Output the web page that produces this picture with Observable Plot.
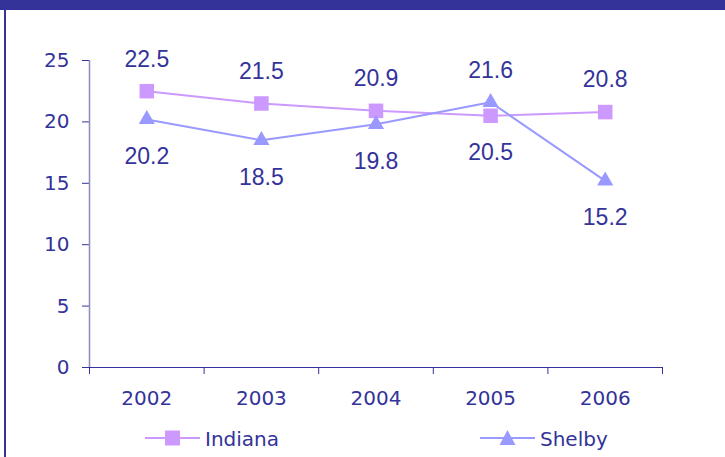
<!DOCTYPE html>
<html>
<head>
<meta charset="utf-8">
<script src="https://cdn.jsdelivr.net/npm/d3@7"></script>
<script src="https://cdn.jsdelivr.net/npm/@observablehq/plot@0.6"></script>
<style>
  html, body { margin: 0; padding: 0; background: #fff; }
  #wrap { position: relative; width: 725px; height: 457px; overflow: hidden; background: #fff; }
  #topband { position: absolute; left: 0; top: 0; width: 725px; height: 10px; background: #333399; }
  #leftborder { position: absolute; left: 4px; top: 0; width: 2px; height: 457px; background: #333399; }
  #chart { position: absolute; left: 0; top: 0; }
  #legend { position: absolute; left: 0; top: 420px; width: 725px; height: 37px; font-family: "DejaVu Sans", sans-serif; font-size: 20px; color: #333399; }
  .item { position: absolute; top: 0; height: 37px; display: flex; align-items: center; }
  .item svg { display: block; margin-right: 5px; }
</style>
</head>
<body>
<div id="wrap">
  <div id="chart"></div>
  <div id="topband"></div>
  <div id="leftborder"></div>
  <div id="legend"></div>
</div>
<script>
const years = [2002, 2003, 2004, 2005, 2006];
const indiana = [22.5, 21.5, 20.9, 20.5, 20.8];
const shelby = [20.2, 18.5, 19.8, 21.6, 15.2];
const seriesNames = ["Indiana", "Shelby"];
const yTicks = [0, 5, 10, 15, 20, 25];

const colors = { Indiana: "#cc99ff", Shelby: "#9999ff" };
const textColor = "#333399";

const rows = [];
years.forEach((yr, i) => {
  rows.push({ year: yr, series: "Indiana", value: indiana[i], above: indiana[i] >= shelby[i] });
  rows.push({ year: yr, series: "Shelby", value: shelby[i], above: shelby[i] > indiana[i] });
});
const boundaries = years.map(y => y - 0.5).concat([years[years.length - 1] + 0.5]);

const plot = Plot.plot({
  width: 725,
  height: 420,
  marginLeft: 89,
  marginRight: 63,
  marginTop: 60,
  marginBottom: 53,
  style: { fontFamily: "DejaVu Sans, sans-serif", fontSize: "20px", color: textColor, background: "transparent" },
  x: { domain: [boundaries[0], boundaries[boundaries.length - 1]], axis: null },
  y: { domain: [0, 25], axis: null },
  marks: [
    Plot.axisY({ ticks: yTicks, tickSize: 7, tickPadding: 13, tickFormat: d => String(d), label: null, stroke: textColor, fill: textColor }),
    Plot.axisX({ ticks: boundaries, tickSize: 7, tickFormat: () => "", label: null, stroke: textColor }),
    Plot.axisX({ ticks: years, tickSize: 0, tickPadding: 23, tickFormat: d => String(d), label: null, fill: textColor }),
    Plot.ruleX([boundaries[0]], { stroke: "#8c8cc0", strokeWidth: 1.5 }),
    Plot.ruleY([0], { stroke: textColor, strokeWidth: 1.2 }),
    Plot.line(rows, { x: "year", y: "value", z: "series", stroke: d => colors[d.series], strokeWidth: 2 }),
    Plot.dot(rows.filter(d => d.series === "Indiana"), { x: "year", y: "value", symbol: "square", r: 8.2, fill: colors.Indiana, stroke: null }),
    Plot.dot(rows.filter(d => d.series === "Shelby"), { x: "year", y: "value", symbol: "triangle", r: 6, fill: colors.Shelby, stroke: null }),
    Plot.text(rows.filter(d => d.above), { x: "year", y: "value", text: d => d.value.toFixed(1), dy: -32, fill: textColor, fontSize: 23, fontFamily: "Liberation Sans, Arial, sans-serif" }),
    Plot.text(rows.filter(d => !d.above), { x: "year", y: "value", text: d => d.value.toFixed(1), dy: 37, fill: textColor, fontSize: 23, fontFamily: "Liberation Sans, Arial, sans-serif" })
  ]
});
document.getElementById("chart").appendChild(plot);

// Legend
const legend = document.getElementById("legend");
const legendLeft = { Indiana: 145, Shelby: 480 };
seriesNames.forEach(name => {
  const item = document.createElement("div");
  item.className = "item";
  item.style.left = legendLeft[name] + "px";
  const sym = name === "Indiana"
    ? `<rect x="20" y="10.5" width="15" height="15" fill="${colors[name]}"/>`
    : `<path d="M27.5,10 L35.5,25 L19.5,25 Z" fill="${colors[name]}"/>`;
  item.innerHTML = `<svg width="55" height="37" viewBox="0 0 55 37"><line x1="0" x2="55" y1="18" y2="18" stroke="${colors[name]}" stroke-width="2"/>${sym}</svg><span>${name}</span>`;
  legend.appendChild(item);
});
</script>
</body>
</html>
